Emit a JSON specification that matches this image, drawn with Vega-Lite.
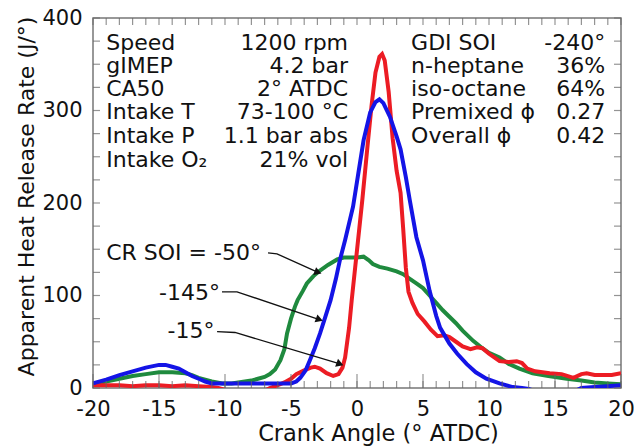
{
  "$schema": "https://vega.github.io/schema/vega-lite/v6.json",
  "width": 528,
  "height": 370,
  "autosize": "none",
  "padding": {"left": 93, "top": 18, "right": 13, "bottom": 59},
  "background": "white",
  "config": {
    "view": {"stroke": "#777", "strokeWidth": 1.5},
    "font": "DejaVu Sans",
    "axis": {"grid": false, "domain": false, "labelColor": "#111", "titleColor": "#111", "labelFont": "DejaVu Sans", "titleFont": "DejaVu Sans", "titleFontWeight": "normal"}
  },
  "datasets": {
    "curves": [
      {"angle": -20, "rate": 4, "soi": "-50"}, {"angle": -19, "rate": 7, "soi": "-50"}, {"angle": -18, "rate": 10, "soi": "-50"}, {"angle": -17, "rate": 13, "soi": "-50"}, {"angle": -16, "rate": 15, "soi": "-50"}, {"angle": -15, "rate": 17, "soi": "-50"}, {"angle": -14, "rate": 17, "soi": "-50"}, {"angle": -13, "rate": 16, "soi": "-50"}, {"angle": -12.5, "rate": 14, "soi": "-50"}, {"angle": -12, "rate": 11, "soi": "-50"}, {"angle": -11, "rate": 7, "soi": "-50"}, {"angle": -10.2, "rate": 5, "soi": "-50"}, {"angle": -9.5, "rate": 5, "soi": "-50"}, {"angle": -9, "rate": 6, "soi": "-50"}, {"angle": -8, "rate": 8, "soi": "-50"}, {"angle": -7.5, "rate": 10, "soi": "-50"}, {"angle": -7, "rate": 12, "soi": "-50"}, {"angle": -6.6, "rate": 15, "soi": "-50"}, {"angle": -6.2, "rate": 20, "soi": "-50"}, {"angle": -5.8, "rate": 30, "soi": "-50"}, {"angle": -5.5, "rate": 42, "soi": "-50"}, {"angle": -5.3, "rate": 59, "soi": "-50"}, {"angle": -5, "rate": 75, "soi": "-50"}, {"angle": -4.7, "rate": 88, "soi": "-50"}, {"angle": -4.5, "rate": 95, "soi": "-50"}, {"angle": -4.1, "rate": 105, "soi": "-50"}, {"angle": -3.8, "rate": 113, "soi": "-50"}, {"angle": -3.3, "rate": 121, "soi": "-50"}, {"angle": -2.8, "rate": 127, "soi": "-50"}, {"angle": -2.2, "rate": 133, "soi": "-50"}, {"angle": -1.5, "rate": 139, "soi": "-50"}, {"angle": -1, "rate": 141, "soi": "-50"}, {"angle": 0, "rate": 141, "soi": "-50"}, {"angle": 0.5, "rate": 142, "soi": "-50"}, {"angle": 0.9, "rate": 138, "soi": "-50"}, {"angle": 1.2, "rate": 134, "soi": "-50"}, {"angle": 1.7, "rate": 131, "soi": "-50"}, {"angle": 2.3, "rate": 129, "soi": "-50"}, {"angle": 3.0, "rate": 126, "soi": "-50"}, {"angle": 3.5, "rate": 123, "soi": "-50"}, {"angle": 4.0, "rate": 118, "soi": "-50"}, {"angle": 4.5, "rate": 113, "soi": "-50"}, {"angle": 5.0, "rate": 108, "soi": "-50"}, {"angle": 5.5, "rate": 100, "soi": "-50"}, {"angle": 6.0, "rate": 92, "soi": "-50"}, {"angle": 6.5, "rate": 84, "soi": "-50"}, {"angle": 7.0, "rate": 77, "soi": "-50"}, {"angle": 7.5, "rate": 70, "soi": "-50"}, {"angle": 8.0, "rate": 62, "soi": "-50"}, {"angle": 8.8, "rate": 51, "soi": "-50"}, {"angle": 9.5, "rate": 43, "soi": "-50"}, {"angle": 10.0, "rate": 38, "soi": "-50"}, {"angle": 10.8, "rate": 33, "soi": "-50"}, {"angle": 11.5, "rate": 26, "soi": "-50"}, {"angle": 12.3, "rate": 21, "soi": "-50"}, {"angle": 13.3, "rate": 16, "soi": "-50"}, {"angle": 14.5, "rate": 13, "soi": "-50"}, {"angle": 15.9, "rate": 10, "soi": "-50"}, {"angle": 17, "rate": 8, "soi": "-50"}, {"angle": 18, "rate": 6, "soi": "-50"}, {"angle": 19, "rate": 5, "soi": "-50"}, {"angle": 20, "rate": 4, "soi": "-50"},

      {"angle": -20, "rate": 3, "soi": "-15"}, {"angle": -19, "rate": 3, "soi": "-15"}, {"angle": -18, "rate": 3, "soi": "-15"}, {"angle": -17, "rate": 2, "soi": "-15"}, {"angle": -16, "rate": 3, "soi": "-15"}, {"angle": -15, "rate": 3, "soi": "-15"}, {"angle": -14, "rate": 2, "soi": "-15"}, {"angle": -13, "rate": 3, "soi": "-15"}, {"angle": -12, "rate": 2, "soi": "-15"}, {"angle": -11, "rate": 1, "soi": "-15"}, {"angle": -10.5, "rate": 0, "soi": "-15"}, {"angle": -10, "rate": -2, "soi": "-15"}, {"angle": -9, "rate": -4, "soi": "-15"}, {"angle": -8, "rate": -5, "soi": "-15"}, {"angle": -7, "rate": -3, "soi": "-15"}, {"angle": -6.6, "rate": 0, "soi": "-15"}, {"angle": -6, "rate": 3, "soi": "-15"}, {"angle": -5.5, "rate": 6, "soi": "-15"}, {"angle": -5, "rate": 10, "soi": "-15"}, {"angle": -4.6, "rate": 15, "soi": "-15"}, {"angle": -4, "rate": 19, "soi": "-15"}, {"angle": -3.5, "rate": 22, "soi": "-15"}, {"angle": -3.2, "rate": 23, "soi": "-15"}, {"angle": -2.8, "rate": 21, "soi": "-15"}, {"angle": -2.3, "rate": 16, "soi": "-15"}, {"angle": -1.8, "rate": 13, "soi": "-15"}, {"angle": -1.4, "rate": 15, "soi": "-15"}, {"angle": -1.1, "rate": 22, "soi": "-15"}, {"angle": -0.9, "rate": 33, "soi": "-15"}, {"angle": -0.6, "rate": 65, "soi": "-15"}, {"angle": -0.4, "rate": 95, "soi": "-15"}, {"angle": 0, "rate": 149, "soi": "-15"}, {"angle": 0.4, "rate": 203, "soi": "-15"}, {"angle": 0.8, "rate": 262, "soi": "-15"}, {"angle": 1.1, "rate": 305, "soi": "-15"}, {"angle": 1.4, "rate": 341, "soi": "-15"}, {"angle": 1.7, "rate": 358, "soi": "-15"}, {"angle": 1.9, "rate": 361, "soi": "-15"}, {"angle": 2.1, "rate": 354, "soi": "-15"}, {"angle": 2.4, "rate": 320, "soi": "-15"}, {"angle": 2.7, "rate": 270, "soi": "-15"}, {"angle": 3.0, "rate": 235, "soi": "-15"}, {"angle": 3.3, "rate": 211, "soi": "-15"}, {"angle": 3.5, "rate": 172, "soi": "-15"}, {"angle": 3.7, "rate": 130, "soi": "-15"}, {"angle": 3.9, "rate": 104, "soi": "-15"}, {"angle": 4.2, "rate": 92, "soi": "-15"}, {"angle": 4.6, "rate": 80, "soi": "-15"}, {"angle": 5.1, "rate": 72, "soi": "-15"}, {"angle": 5.6, "rate": 63, "soi": "-15"}, {"angle": 6.1, "rate": 56, "soi": "-15"}, {"angle": 6.6, "rate": 57, "soi": "-15"}, {"angle": 7.0, "rate": 55, "soi": "-15"}, {"angle": 7.5, "rate": 50, "soi": "-15"}, {"angle": 8.0, "rate": 45, "soi": "-15"}, {"angle": 8.6, "rate": 42, "soi": "-15"}, {"angle": 9.1, "rate": 44, "soi": "-15"}, {"angle": 9.5, "rate": 43, "soi": "-15"}, {"angle": 10.0, "rate": 37, "soi": "-15"}, {"angle": 10.8, "rate": 29, "soi": "-15"}, {"angle": 11.5, "rate": 28, "soi": "-15"}, {"angle": 12.1, "rate": 29, "soi": "-15"}, {"angle": 12.5, "rate": 27, "soi": "-15"}, {"angle": 12.9, "rate": 21, "soi": "-15"}, {"angle": 13.5, "rate": 18, "soi": "-15"}, {"angle": 14.6, "rate": 16, "soi": "-15"}, {"angle": 15.5, "rate": 15, "soi": "-15"}, {"angle": 16.4, "rate": 11, "soi": "-15"}, {"angle": 17.0, "rate": 15, "soi": "-15"}, {"angle": 17.4, "rate": 16, "soi": "-15"}, {"angle": 18.0, "rate": 14, "soi": "-15"}, {"angle": 18.5, "rate": 14, "soi": "-15"}, {"angle": 19.3, "rate": 14, "soi": "-15"}, {"angle": 20, "rate": 16, "soi": "-15"},

      {"angle": -20, "rate": 5, "soi": "-145"}, {"angle": -19, "rate": 9, "soi": "-145"}, {"angle": -18, "rate": 14, "soi": "-145"}, {"angle": -17, "rate": 18, "soi": "-145"}, {"angle": -16, "rate": 22, "soi": "-145"}, {"angle": -15, "rate": 25, "soi": "-145"}, {"angle": -14.5, "rate": 25, "soi": "-145"}, {"angle": -14, "rate": 23, "soi": "-145"}, {"angle": -13.5, "rate": 21, "soi": "-145"}, {"angle": -13, "rate": 17, "soi": "-145"}, {"angle": -12.5, "rate": 13, "soi": "-145"}, {"angle": -12, "rate": 10, "soi": "-145"}, {"angle": -11.5, "rate": 7, "soi": "-145"}, {"angle": -11, "rate": 5, "soi": "-145"}, {"angle": -10, "rate": 5, "soi": "-145"}, {"angle": -8, "rate": 5, "soi": "-145"}, {"angle": -6, "rate": 5, "soi": "-145"}, {"angle": -5, "rate": 5, "soi": "-145"}, {"angle": -4.6, "rate": 7, "soi": "-145"}, {"angle": -4.3, "rate": 11, "soi": "-145"}, {"angle": -3.9, "rate": 19, "soi": "-145"}, {"angle": -3.6, "rate": 29, "soi": "-145"}, {"angle": -3.2, "rate": 43, "soi": "-145"}, {"angle": -2.8, "rate": 59, "soi": "-145"}, {"angle": -2.4, "rate": 77, "soi": "-145"}, {"angle": -2.0, "rate": 95, "soi": "-145"}, {"angle": -1.6, "rate": 118, "soi": "-145"}, {"angle": -1.3, "rate": 138, "soi": "-145"}, {"angle": -0.9, "rate": 160, "soi": "-145"}, {"angle": -0.3, "rate": 196, "soi": "-145"}, {"angle": 0.1, "rate": 232, "soi": "-145"}, {"angle": 0.5, "rate": 268, "soi": "-145"}, {"angle": 1.0, "rate": 298, "soi": "-145"}, {"angle": 1.4, "rate": 309, "soi": "-145"}, {"angle": 1.7, "rate": 312, "soi": "-145"}, {"angle": 2.0, "rate": 308, "soi": "-145"}, {"angle": 2.5, "rate": 293, "soi": "-145"}, {"angle": 3.0, "rate": 272, "soi": "-145"}, {"angle": 3.3, "rate": 258, "soi": "-145"}, {"angle": 3.7, "rate": 228, "soi": "-145"}, {"angle": 4.0, "rate": 203, "soi": "-145"}, {"angle": 4.5, "rate": 163, "soi": "-145"}, {"angle": 5.0, "rate": 138, "soi": "-145"}, {"angle": 5.5, "rate": 105, "soi": "-145"}, {"angle": 6.0, "rate": 78, "soi": "-145"}, {"angle": 6.3, "rate": 65, "soi": "-145"}, {"angle": 7.0, "rate": 48, "soi": "-145"}, {"angle": 7.6, "rate": 37, "soi": "-145"}, {"angle": 8.3, "rate": 26, "soi": "-145"}, {"angle": 9.0, "rate": 17, "soi": "-145"}, {"angle": 9.8, "rate": 10, "soi": "-145"}, {"angle": 10.8, "rate": 5, "soi": "-145"}, {"angle": 11.8, "rate": 1, "soi": "-145"}, {"angle": 12.5, "rate": 0, "soi": "-145"}, {"angle": 13.0, "rate": -1, "soi": "-145"}, {"angle": 13.4, "rate": -3, "soi": "-145"}, {"angle": 15, "rate": -4, "soi": "-145"}, {"angle": 16.7, "rate": -2, "soi": "-145"}, {"angle": 17.0, "rate": 0, "soi": "-145"}, {"angle": 18, "rate": 1, "soi": "-145"}, {"angle": 19, "rate": 2, "soi": "-145"}, {"angle": 20, "rate": 3, "soi": "-145"}
    ],
    "leftText": [
      {"label": "Speed", "angle": -19.0, "rate": 373},
      {"label": "gIMEP", "angle": -19.0, "rate": 348},
      {"label": "CA50", "angle": -19.0, "rate": 323},
      {"label": "Intake T", "angle": -19.0, "rate": 298},
      {"label": "Intake P", "angle": -19.0, "rate": 272},
      {"label": "Intake O₂", "angle": -19.0, "rate": 247},
      {"label": "GDI SOI", "angle": 4.1, "rate": 373},
      {"label": "n-heptane", "angle": 4.1, "rate": 348},
      {"label": "iso-octane", "angle": 4.1, "rate": 323},
      {"label": "Premixed ϕ", "angle": 4.1, "rate": 298},
      {"label": "Overall ϕ", "angle": 4.1, "rate": 272},
      {"label": "CR SOI = -50°", "angle": -19.0, "rate": 146}
    ],
    "rightText": [
      {"label": "1200 rpm", "angle": -0.68, "rate": 373},
      {"label": "4.2 bar", "angle": -0.68, "rate": 348},
      {"label": "2° ATDC", "angle": -0.68, "rate": 323},
      {"label": "73-100 °C", "angle": -0.68, "rate": 298},
      {"label": "1.1 bar abs", "angle": -0.68, "rate": 272},
      {"label": "21% vol", "angle": -0.68, "rate": 247},
      {"label": "-240°", "angle": 18.8, "rate": 373},
      {"label": "36%", "angle": 18.8, "rate": 348},
      {"label": "64%", "angle": 18.8, "rate": 323},
      {"label": "0.27", "angle": 18.8, "rate": 298},
      {"label": "0.42", "angle": 18.8, "rate": 272},
      {"label": "-145°", "angle": -10.38, "rate": 103},
      {"label": "-15°", "angle": -10.8, "rate": 62}
    ],
    "arrows": [
      {"arrow": 1, "seq": 0, "angle": -6.74, "rate": 146},
      {"arrow": 1, "seq": 1, "angle": -6.06, "rate": 145},
      {"arrow": 1, "seq": 2, "angle": -2.95, "rate": 125},
      {"arrow": 2, "seq": 0, "angle": -10.23, "rate": 104},
      {"arrow": 2, "seq": 1, "angle": -9.09, "rate": 104},
      {"arrow": 2, "seq": 2, "angle": -2.85, "rate": 74},
      {"arrow": 3, "seq": 0, "angle": -10.6, "rate": 61},
      {"arrow": 3, "seq": 1, "angle": -9.24, "rate": 60},
      {"arrow": 3, "seq": 2, "angle": -1.29, "rate": 26}
    ],
    "xTicks": [
      {"angle": -20}, {"angle": -19}, {"angle": -18}, {"angle": -17}, {"angle": -16}, {"angle": -15}, {"angle": -14}, {"angle": -13}, {"angle": -12}, {"angle": -11}, {"angle": -10}, {"angle": -9}, {"angle": -8}, {"angle": -7}, {"angle": -6}, {"angle": -5}, {"angle": -4}, {"angle": -3}, {"angle": -2}, {"angle": -1}, {"angle": 0}, {"angle": 1}, {"angle": 2}, {"angle": 3}, {"angle": 4}, {"angle": 5}, {"angle": 6}, {"angle": 7}, {"angle": 8}, {"angle": 9}, {"angle": 10}, {"angle": 11}, {"angle": 12}, {"angle": 13}, {"angle": 14}, {"angle": 15}, {"angle": 16}, {"angle": 17}, {"angle": 18}, {"angle": 19}, {"angle": 20}
    ],
    "yTicks": [
      {"rate": 0}, {"rate": 25}, {"rate": 50}, {"rate": 75}, {"rate": 100}, {"rate": 125}, {"rate": 150}, {"rate": 175}, {"rate": 200}, {"rate": 225}, {"rate": 250}, {"rate": 275}, {"rate": 300}, {"rate": 325}, {"rate": 350}, {"rate": 375}, {"rate": 400}
    ]
  },
  "layer": [
    {
      "data": {"name": "curves"},
      "mark": {"type": "line", "strokeWidth": 4, "clip": true},
      "encoding": {
        "x": {"field": "angle", "type": "quantitative", "scale": {"domain": [-20, 20], "nice": false},
          "axis": {"orient": "bottom", "values": [-20,-15,-10,-5,0,5,10,15,20],
            "labelExpr": "'' + datum.value", "ticks": false, "labelPadding": 10, "labelFontSize": 21, "labelFlush": false,
            "title": "Crank Angle (° ATDC)", "titleFontSize": 22.5, "titlePadding": 3, "titleX": 285}},
        "y": {"field": "rate", "type": "quantitative", "scale": {"domain": [0, 400], "nice": false},
          "axis": {"orient": "left", "values": [0,100,200,300,400],
            "labelExpr": "'' + datum.value", "ticks": false, "labelPadding": 11, "labelFontSize": 21, "labelFlush": false,
            "title": "Apparent Heat Release Rate (J/°)", "titleFontSize": 22, "titlePadding": 3, "titleY": 178}},
        "color": {"field": "soi", "type": "nominal", "scale": {"domain": ["-50", "-15", "-145"], "range": ["#1f8a3e", "#ec1c24", "#1414e6"]}, "legend": null}
      }
    },
    {
      "data": {"name": "xTicks"},
      "mark": {"type": "tick", "orient": "vertical", "color": "#666", "thickness": 1.2, "size": 7},
      "encoding": {
        "x": {"field": "angle", "type": "quantitative"},
        "y": {"datum": 3.8, "type": "quantitative"}
      }
    },
    {
      "data": {"name": "xTicks"},
      "transform": [{"filter": "datum.angle % 5 === 0"}],
      "mark": {"type": "tick", "orient": "vertical", "color": "#666", "thickness": 1.2, "size": 14},
      "encoding": {
        "x": {"field": "angle", "type": "quantitative"},
        "y": {"datum": 7.6, "type": "quantitative"}
      }
    },
    {
      "data": {"name": "xTicks"},
      "mark": {"type": "tick", "orient": "vertical", "color": "#666", "thickness": 1.2, "size": 7},
      "encoding": {
        "x": {"field": "angle", "type": "quantitative"},
        "y": {"datum": 396.2, "type": "quantitative"}
      }
    },
    {
      "data": {"name": "yTicks"},
      "mark": {"type": "tick", "orient": "horizontal", "color": "#666", "thickness": 1.2, "size": 7},
      "encoding": {
        "y": {"field": "rate", "type": "quantitative"},
        "x": {"datum": -19.735, "type": "quantitative"}
      }
    },
    {
      "data": {"name": "yTicks"},
      "mark": {"type": "tick", "orient": "horizontal", "color": "#666", "thickness": 1.2, "size": 7},
      "encoding": {
        "y": {"field": "rate", "type": "quantitative"},
        "x": {"datum": 19.735, "type": "quantitative"}
      }
    },
    {
      "data": {"name": "arrows"},
      "mark": {"type": "line", "color": "#111", "strokeWidth": 1.3},
      "encoding": {
        "x": {"field": "angle", "type": "quantitative"},
        "y": {"field": "rate", "type": "quantitative"},
        "detail": {"field": "arrow", "type": "nominal"},
        "order": {"field": "seq", "type": "quantitative"}
      }
    },
    {
      "data": {"name": "arrows"},
      "transform": [{"filter": "datum.seq === 2"}],
      "mark": {"type": "point", "shape": "triangle-right", "filled": true, "color": "#111", "size": 70, "angle": 20, "opacity": 1},
      "encoding": {
        "x": {"field": "angle", "type": "quantitative"},
        "y": {"field": "rate", "type": "quantitative"}
      }
    },
    {
      "data": {"name": "leftText"},
      "mark": {"type": "text", "align": "left", "baseline": "middle", "fontSize": 22, "font": "DejaVu Sans", "color": "#111"},
      "encoding": {
        "x": {"field": "angle", "type": "quantitative"},
        "y": {"field": "rate", "type": "quantitative"},
        "text": {"field": "label"}
      }
    },
    {
      "data": {"name": "rightText"},
      "mark": {"type": "text", "align": "right", "baseline": "middle", "fontSize": 22, "font": "DejaVu Sans", "color": "#111"},
      "encoding": {
        "x": {"field": "angle", "type": "quantitative"},
        "y": {"field": "rate", "type": "quantitative"},
        "text": {"field": "label"}
      }
    }
  ]
}
